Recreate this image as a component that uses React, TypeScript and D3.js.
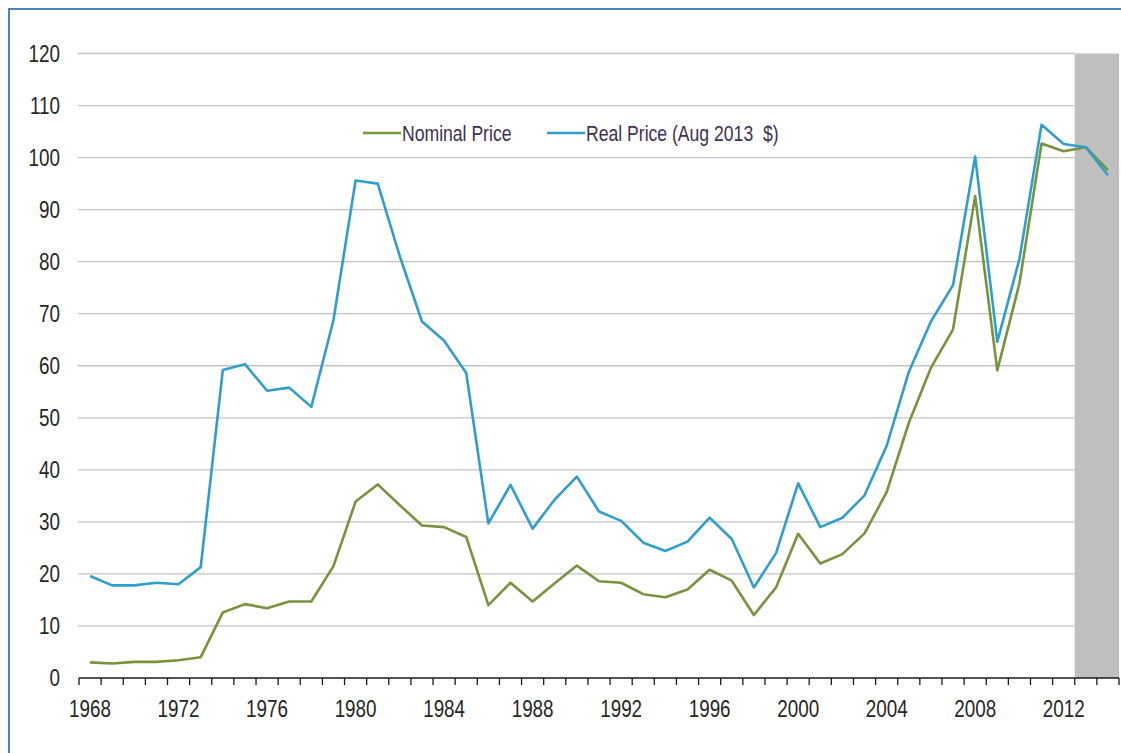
import React from "react";
import * as d3 from "d3";

const years: number[] = d3.range(1968, 2015);
const realPrice: number[] = [
  19.6, 17.8, 17.8, 18.3, 18.0, 21.3, 59.2, 60.3, 55.2, 55.8,
  52.1, 68.8, 95.6, 95.0, 81.0, 68.5, 64.8, 58.6, 29.7, 37.1,
  28.7, 34.3, 38.7, 32.0, 30.2, 26.0, 24.4, 26.2, 30.8, 26.7,
  17.4, 24.0, 37.4, 29.0, 30.8, 35.1, 44.6, 58.8, 68.5, 75.5,
  100.2, 64.6, 80.5, 106.3, 102.6, 102.0, 96.6,
];
const nominalPrice: number[] = [
  3.0, 2.8, 3.1, 3.1, 3.4, 4.0, 12.6, 14.2, 13.4, 14.7,
  14.7, 21.5, 33.9, 37.2, 33.2, 29.3, 29.0, 27.1, 14.0, 18.3,
  14.7, 18.2, 21.6, 18.6, 18.3, 16.1, 15.5, 17.0, 20.8, 18.7,
  12.1, 17.4, 27.7, 22.0, 23.8, 27.8, 35.7, 49.0, 59.6, 67.0,
  92.6, 59.1, 75.8, 102.7, 101.2, 102.0, 97.6,
];
const yTicks: number[] = [0, 10, 20, 30, 40, 50, 60, 70, 80, 90, 100, 110, 120];
const xLabelYears: number[] = [1968, 1972, 1976, 1980, 1984, 1988, 1992, 1996, 2000, 2004, 2008, 2012];
const shadedYears: number[] = [2013, 2014];
const seriesNames = { nominal: "Nominal Price", real: "Real Price (Aug 2013  $)" };

const W = 1121;
const H = 753;
const left = 79;
const right = 1119;
const top = 53.5;
const bottom = 678;

const GREEN = "#77933c";
const BLUE = "#2e9fca";
const FONT = "'Liberation Sans', Arial, sans-serif";

export default function App() {
  const x = d3.scaleBand<number>().domain(years).range([left, right]).paddingInner(0).paddingOuter(0);
  const bw = x.bandwidth();
  const y = d3.scaleLinear().domain([0, 120]).range([bottom, top]);
  const cx = (yr: number) => (x(yr) as number) + bw / 2;

  const line = d3
    .line<number>()
    .x((_, i) => cx(years[i]))
    .y((d) => y(d));

  const shadeX0 = x(shadedYears[0]) as number;
  const shadeX1 = (x(shadedYears[shadedYears.length - 1]) as number) + bw;

  const tickPositions = [...years.map((yr) => x(yr) as number), right];

  return (
    <div style={{ position: "absolute", left: 0, top: 0 }}>
      <svg width={W} height={H} style={{ display: "block" }}>
        <rect x={0} y={0} width={W} height={H} fill="#ffffff" />
        {/* outer border */}
        <path d={`M9,${H + 5} L9,9 L${W + 5},9`} fill="none" stroke="#4f81bd" strokeWidth={2} />

        {/* shaded forecast region */}
        <rect x={shadeX0} y={y(120)} width={shadeX1 - shadeX0} height={y(0) - y(120)} fill="#bfbfbf" />

        {/* gridlines */}
        {yTicks.filter((t) => t > 0).map((t) => (
          <line key={t} x1={left - 1} x2={shadeX0} y1={y(t)} y2={y(t)} stroke="#c3c3c3" strokeWidth={1.3} />
        ))}

        {/* y labels */}
        {yTicks.map((t) => (
          <text
            key={t}
            transform={`translate(60,${y(t) + 8}) scale(0.82,1)`}
            textAnchor="end"
            fontFamily={FONT}
            fontSize={23}
            fill="#262626"
          >
            {t}
          </text>
        ))}

        {/* lines */}
        <path d={line(nominalPrice) || ""} fill="none" stroke={GREEN} strokeWidth={2.6} strokeLinejoin="round" />
        <path d={line(realPrice) || ""} fill="none" stroke={BLUE} strokeWidth={2.6} strokeLinejoin="round" />

        {/* x axis */}
        <line x1={left} x2={right} y1={bottom} y2={bottom} stroke="#1a1a1a" strokeWidth={1.5} />
        {tickPositions.map((p, i) => (
          <line key={i} x1={p} x2={p} y1={bottom} y2={bottom + 7} stroke="#1a1a1a" strokeWidth={1.3} />
        ))}
        {xLabelYears.map((yr) => (
          <text
            key={yr}
            transform={`translate(${cx(yr)},${bottom + 39}) scale(0.82,1)`}
            textAnchor="middle"
            fontFamily={FONT}
            fontSize={23}
            fill="#262626"
          >
            {yr}
          </text>
        ))}

        {/* legend */}
        <line x1={363} x2={401} y1={133} y2={133} stroke={GREEN} strokeWidth={2.6} />
        <text
          transform="translate(402,140.5) scale(0.8,1)"
          fontFamily={FONT}
          fontSize={22}
          fill="#3d3050"
          style={{ whiteSpace: "pre" }}
        >
          {seriesNames.nominal}
        </text>
        <line x1={547} x2={585} y1={133} y2={133} stroke={BLUE} strokeWidth={2.6} />
        <text
          transform="translate(586,140.5) scale(0.8,1)"
          fontFamily={FONT}
          fontSize={22}
          fill="#3d3050"
          style={{ whiteSpace: "pre" }}
        >
          {seriesNames.real}
        </text>
      </svg>
    </div>
  );
}
